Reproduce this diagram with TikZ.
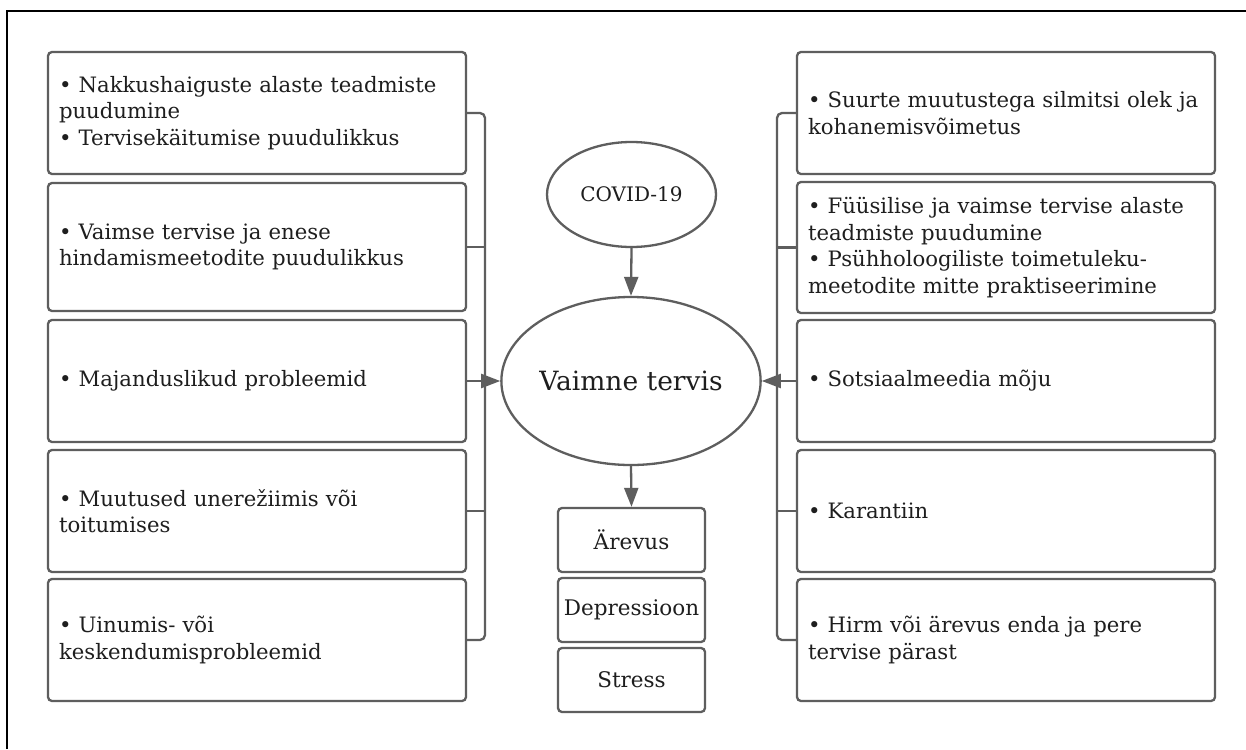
\documentclass[tikz,border=0pt]{standalone}
\usepackage{fontspec}
\setmainfont{DejaVu Serif}
\usetikzlibrary{shapes.geometric,arrows.meta}
\definecolor{linegray}{HTML}{5E5E5E}
\definecolor{txt}{HTML}{1E1E1E}
\begin{document}
\begin{tikzpicture}[x=1pt,y=-1pt,
  sidebox/.style={draw=linegray, line width=2.3pt, rounded corners=4pt, fill=white,
    text width=396pt, inner xsep=11pt, inner ysep=0pt, align=left, text=txt,
    font=\fontsize{21.2}{26.5}\selectfont},
  effbox/.style={draw=linegray, line width=2.3pt, rounded corners=4pt, fill=white,
    minimum width=147pt, minimum height=64pt, inner sep=0pt, text=txt,
    font=\fontsize{21.5}{24}\selectfont},
  oval/.style={draw=linegray, line width=2.3pt, ellipse, fill=white, inner sep=0pt, text=txt},
  conn/.style={draw=linegray, line width=2.3pt},
  arr/.style={conn, -{Triangle[length=19pt,width=14pt]}}]
\useasboundingbox (0,0) rectangle (1246,749);
\fill[white] (0,0) rectangle (1246,749);
% frame
\draw[black, line width=2.5pt] (7,749) -- (7,11) -- (1246,11);
% left boxes
\node[sidebox, minimum height=122pt] (L1) at (257,113) {• Nakkushaiguste alaste teadmiste\\puudumine\\• Tervisekäitumise puudulikkus};
\node[sidebox, minimum height=128pt] (L2) at (257,247) {• Vaimse tervise ja enese\\hindamismeetodite puudulikkus};
\node[sidebox, minimum height=122pt] (L3) at (257,381) {• Majanduslikud probleemid};
\node[sidebox, minimum height=122pt] (L4) at (257,511) {• Muutused unerežiimis või\\toitumises};
\node[sidebox, minimum height=122pt] (L5) at (257,640) {• Uinumis- või\\keskendumisprobleemid};
% right boxes
\node[sidebox, minimum height=122pt] (R1) at (1006,113) {• Suurte muutustega silmitsi olek ja\\kohanemisvõimetus};
\node[sidebox, minimum height=131pt] (R2) at (1006,247.5) {• Füüsilise ja vaimse tervise alaste\\teadmiste puudumine\\• Psühholoogiliste toimetuleku-\\meetodite mitte praktiseerimine};
\node[sidebox, minimum height=122pt] (R3) at (1006,381) {• Sotsiaalmeedia mõju};
\node[sidebox, minimum height=122pt] (R4) at (1006,511) {• Karantiin};
\node[sidebox, minimum height=122pt] (R5) at (1006,640) {• Hirm või ärevus enda ja pere\\tervise pärast};
% centre
\node[oval, minimum width=169pt, minimum height=105pt, font=\fontsize{20}{24}\selectfont] (cov) at (631.5,194.5) {COVID-19};
\node[oval, minimum width=252pt, minimum height=168pt, font=\fontsize{26.5}{32}\selectfont] (vt) at (631,381) {Vaimne tervis};
\node[effbox] (e1) at (631.5,540) {Ärevus};
\node[effbox] (e2) at (631.5,610) {Depressioon};
\node[effbox] (e3) at (631.5,680) {Stress};
% brackets
\coordinate (bl) at (485,381);
\coordinate (br) at (777,381);
\draw[conn, rounded corners=5pt] (L1.east) -| (bl) |- (L5.east);
\draw[conn] (L2.east) -- (L2.east -| bl);
\draw[conn] (L4.east) -- (L4.east -| bl);
\draw[conn, rounded corners=5pt] (R1.west) -| (br) |- (R5.west);
\draw[conn] (R2.west) -- (R2.west -| br);
\draw[conn] (R4.west) -- (R4.west -| br);
% arrows
\draw[arr] (L3.east) -- (vt.west);
\draw[arr] (R3.west) -- (vt.east);
\draw[arr] (cov.south) -- (vt.north);
\draw[arr] (vt.south) -- (e1.north);
\end{tikzpicture}
\end{document}
